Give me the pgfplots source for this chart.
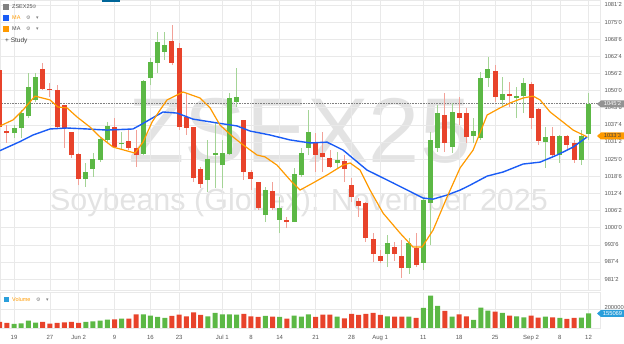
\documentclass[border=0pt]{standalone}
\usepackage{fontspec}
\setmainfont{Liberation Sans}
\newfontfamily\dejavu{DejaVu Sans}
\usepackage{pgfplots}
\pgfplotsset{compat=1.18}
\usepackage{pgfplotstable}

\definecolor{cgreen}{HTML}{5CB845}
\definecolor{cred}{HTML}{E8432B}
\definecolor{gwick}{HTML}{A4D496}
\definecolor{rwick}{HTML}{F2A198}
\definecolor{mablue}{HTML}{1A5CF5}
\definecolor{maorange}{HTML}{FF9A00}
\definecolor{gridc}{HTML}{E9E9E9}
\definecolor{wm}{HTML}{E3E3E3}
\definecolor{lbl}{HTML}{555555}
\definecolor{volblue}{HTML}{2A9FDB}

% green candles: index, open, high, low, close
\pgfplotstableread{
i O H L C
0 1034.5 1037.4 1032.7 1036.35
1 1036.35 1042.9 1032.7 1041.8
2 1040.7 1056.4 1040.0 1051.3
3 1046.6 1056.4 1045.8 1055.0
10 1017.7 1023.6 1014.8 1020.3
11 1021.4 1027.2 1018.5 1025.0
12 1024.7 1033.1 1023.9 1032.3
13 1032.0 1038.5 1031.2 1037.1
15 1030.4 1034.9 1028.3 1030.9
18 1026.9 1053.9 1026.5 1053.5
19 1054.6 1061.9 1052.0 1060.4
20 1060.1 1071.4 1056.4 1067.7
21 1064.1 1071.4 1061.2 1066.6
27 1017.4 1032.0 1013.0 1025.0
28 1026.5 1038.2 1014.5 1027.2
29 1022.8 1032.0 1014.5 1027.2
30 1026.9 1049.1 1026.5 1047.3
31 1045.8 1058.2 1044.0 1047.7
35 1004.6 1014.8 1002.0 1013.7
37 1002.8 1011.2 998.0 1007.1
39 1002.0 1021.8 1002.0 1019.6
40 1019.2 1029.1 1018.5 1027.2
41 1029.1 1042.9 1026.5 1034.9
45 1023.6 1027.6 1021.8 1024.7
52 990.4 997.3 985.6 994.4
55 985.2 996.2 983.1 994.4
57 987.1 1010.8 984.5 1010.1
58 1009.0 1034.9 993.6 1032.0
59 1029.1 1044.7 1027.6 1041.8
61 1029.4 1045.5 1027.2 1042.2
64 1033.4 1040.0 1030.9 1035.3
65 1032.7 1056.8 1032.0 1054.6
66 1054.6 1062.3 1051.3 1057.9
68 1046.6 1055.0 1044.0 1048.8
70 1047.3 1051.3 1040.0 1048.1
71 1048.1 1054.6 1041.8 1052.8
74 1031.2 1036.7 1021.8 1033.1
76 1026.5 1033.8 1023.6 1033.4
79 1024.7 1035.6 1022.8 1033.4
80 1034.2 1049.1 1032.0 1045.25
}\greentab

% red candles: index, open, high, low, close
\pgfplotstableread{
i O H L C
-2 1057.5 1059.3 1035.6 1036.7
-1 1035.25 1037.4 1030.9 1034.5
4 1057.9 1060.1 1050.2 1050.6
5 1050.6 1052.8 1047.7 1050.1
6 1050.2 1052.0 1036.35 1036.7
7 1044.7 1044.7 1029.1 1036.35
8 1034.9 1034.9 1025.4 1026.5
9 1026.9 1027.2 1015.5 1017.7
14 1036.7 1040.0 1029.1 1029.4
16 1031.6 1035.6 1028.3 1029.1
17 1029.1 1035.6 1022.1 1026.5
22 1068.1 1074.0 1059.35 1060.1
23 1065.5 1067.4 1035.6 1036.7
24 1040.4 1049.1 1033.8 1036.35
25 1036.7 1036.7 1016.6 1018.1
26 1021.4 1022.1 1014.5 1015.9
32 1039.3 1039.3 1017.4 1020.3
33 1020.3 1021.0 1013.7 1017.7
34 1016.6 1016.6 1006.4 1007.1
36 1013.4 1016.6 1006.4 1007.1
38 1002.8 1003.9 999.85 1002.0
42 1030.9 1034.5 1020.3 1026.5
43 1027.2 1034.9 1020.3 1025.8
44 1025.4 1028.3 1021.8 1022.1
46 1024.3 1026.5 1016.6 1021.4
47 1015.5 1018.1 1009.3 1011.2
48 1009.7 1010.8 1003.9 1007.9
49 1009.0 1009.3 994.7 996.2
50 995.8 998.0 987.4 990.4
51 989.6 991.8 987.1 987.8
53 992.9 994.7 987.8 990.4
54 989.6 995.5 981.6 985.2
56 992.5 998.0 985.6 986.3
60 1041.1 1049.1 1027.6 1030.9
62 1041.8 1047.7 1037.4 1040.0
63 1041.8 1043.7 1030.9 1033.1
67 1057.2 1059.35 1045.8 1047.7
69 1048.8 1053.2 1044.0 1048.1
72 1052.4 1053.2 1036.0 1040.0
73 1043.3 1043.7 1030.2 1031.6
75 1033.4 1036.7 1025.4 1026.5
77 1033.4 1033.8 1028.3 1030.2
78 1030.9 1032.0 1023.6 1024.7
}\redtab

\pgfplotstableread{
x y
-1.95 1028.1
0.84 1031.4
2.65 1033.8
5.01 1036.0
7.38 1036.35
10.17 1036.0
12.95 1035.6
16.57 1036.0
17.55 1037.4
18.94 1039.5
20.75 1042.2
22.70 1041.8
24.93 1039.6
28.27 1038.2
31.06 1037.1
32.87 1035.25
35.65 1033.8
38.44 1032.0
41.23 1030.9
43.59 1031.2
45.82 1028.3
49.16 1021.0
52.79 1016.3
56.96 1010.8
58.36 1010.4
60.31 1011.9
62.12 1013.7
63.51 1015.5
65.88 1018.8
68.11 1020.3
70.89 1023.2
73.26 1023.9
75.63 1026.5
77.86 1029.4
79.81 1033.1
}\mablue

\pgfplotstableread{
x y
-1.95 1037.1
-0.14 1039.3
1.25 1042.9
2.92 1048.0
5.01 1046.6
6.13 1044.0
7.38 1043.7
8.77 1040.4
10.58 1036.7
11.98 1033.1
13.79 1029.4
15.74 1028.0
16.85 1027.2
17.97 1031.2
19.22 1038.5
20.33 1042.9
21.31 1046.6
23.54 1049.5
25.91 1047.3
27.30 1043.7
28.69 1037.4
30.50 1033.1
31.89 1030.2
33.84 1026.5
34.96 1025.8
36.63 1022.8
38.44 1017.4
39.83 1013.7
41.64 1016.3
43.59 1019.2
45.82 1022.8
46.80 1023.6
48.19 1021.0
49.58 1013.7
51.39 1005.3
53.76 998.0
55.57 992.9
56.82 992.9
58.36 999.1
60.31 1011.2
62.12 1021.8
63.93 1028.3
65.88 1041.1
67.69 1043.7
69.08 1045.5
70.89 1047.3
72.28 1048.0
73.26 1046.6
74.65 1042.2
76.46 1038.5
77.86 1035.6
79.81 1033.1
}\maorange

\pgfplotstableread{
i v
0 42100
1 49100
2 77200
3 56100
10 63200
11 70200
12 77200
13 87700
15 98300
18 143900
19 129800
20 115800
21 105300
27 122800
28 157900
29 143900
30 143900
31 140400
35 126300
37 115800
39 129800
40 119300
41 143900
45 119300
52 122800
55 119300
57 210500
58 340400
59 231600
61 119300
64 84200
65 214000
66 182500
68 157900
70 122800
71 112300
74 119300
76 105300
79 108800
80 155069
}\volgreen

\pgfplotstableread{
i v
-2 63200
-1 52600
4 63200
5 45600
6 52600
7 59700
8 63200
9 52600
14 91200
16 98300
17 143900
22 126300
23 140400
24 122800
25 164900
26 136900
32 147400
33 122800
34 115800
36 119300
38 98300
42 115800
43 140400
44 140400
46 101800
47 147400
48 136900
49 147400
50 157900
51 136900
53 119300
54 119300
56 105300
60 179000
62 143900
63 122800
67 171900
69 129800
72 129800
73 108800
75 112300
77 94700
78 105300
}\volred

\begin{document}
\begin{tikzpicture}[x=1pt,y=1pt]
\useasboundingbox (0,0) rectangle (624,344);
% watermark
\node[text=wm, font=\fontsize{92}{92}\selectfont, inner sep=0, anchor=base] at (300,181) {ZSEX25};
\node[text=wm, font=\fontsize{30.5}{31}\selectfont, inner sep=0, anchor=base] at (299,133.5) {Soybeans (Globex): November 2025};

\begin{axis}[
  at={(0pt,54pt)}, anchor=south west, scale only axis,
  width=600pt, height=290pt,
  xmin=-1.95, xmax=81.6, ymin=977.24, ymax=1083.07,
  axis line style={draw=gridc},
  xtick={0,5,9,14,19,23,29,33,37,42,47,51,57,62,67,72,76,80},
  xticklabels={},
  ytick={981.25,987.5,993.75,1000,1006.25,1012.5,1018.75,1025,1031.25,1037.5,1043.75,1050,1056.25,1062.5,1068.75,1075,1081.25},
  yticklabels={981'2,987'4,993'6,1000'0,1006'2,1012'4,1018'6,1025'0,1031'2,1037'4,1043'6,1050'0,1056'2,1062'4,1068'6,1075'0,1081'2},
  yticklabel pos=right,
  yticklabel style={font=\fontsize{5.8}{6}\selectfont, text=lbl, xshift=1pt},
  grid=major, major grid style={draw=gridc, line width=0.5pt},
  major tick length=0pt,
]
\addplot[gray, densely dotted, line width=0.6pt] coordinates {(-3,1045.25) (83,1045.25)};
% wicks
\addplot[draw=none, mark=none, error bars/.cd, y dir=plus, y explicit, error mark=none,
  error bar style={line width=0.9pt, draw=gwick}]
  table[x=i, y=L, y error plus expr={\thisrow{H}-\thisrow{L}}] {\greentab};
\addplot[draw=none, mark=none, error bars/.cd, y dir=plus, y explicit, error mark=none,
  error bar style={line width=0.9pt, draw=rwick}]
  table[x=i, y=L, y error plus expr={\thisrow{H}-\thisrow{L}}] {\redtab};
% bodies
\addplot[draw=none, mark=none, error bars/.cd, y dir=plus, y explicit, error mark=none,
  error bar style={line width=5pt, draw=cgreen}]
  table[x=i, y=O, y error plus expr={\thisrow{C}-\thisrow{O}}] {\greentab};
\addplot[draw=none, mark=none, error bars/.cd, y dir=plus, y explicit, error mark=none,
  error bar style={line width=5pt, draw=cred}]
  table[x=i, y=C, y error plus expr={\thisrow{O}-\thisrow{C}}] {\redtab};
% moving averages
\addplot[mablue, line width=1.4pt, line join=round] table[x=x,y=y] {\mablue};
\addplot[maorange, line width=1.2pt, line join=round] table[x=x,y=y] {\maorange};
\end{axis}

\begin{axis}[
  at={(0pt,16pt)}, anchor=south west, scale only axis,
  width=600pt, height=36pt,
  xmin=-1.95, xmax=81.6, ymin=0, ymax=378900,
  axis line style={draw=gridc},
  xtick={0,5,9,14,19,23,29,33,37,42,47,51,57,62,67,72,76,80},
  xticklabels={19,27,Jun 2,9,16,23,Jul 1,8,14,21,28,Aug 1,11,18,25,Sep 2,8,12},
  xticklabel style={font=\fontsize{6}{6}\selectfont, text=lbl, yshift=-4pt},
  ytick={200000}, yticklabels={200000}, scaled y ticks=false,
  yticklabel pos=right,
  yticklabel style={font=\fontsize{5.8}{6}\selectfont, text=lbl, xshift=1pt, yshift=1pt},
  grid=major, major grid style={draw=gridc, line width=0.5pt},
  major tick length=0pt,
]
\addplot[ybar, bar width=5pt, bar shift=0pt, fill=cgreen, draw=none] table[x=i,y=v] {\volgreen};
\addplot[ybar, bar width=5pt, bar shift=0pt, fill=cred, draw=none] table[x=i,y=v] {\volred};
\end{axis}

% price tags
\fill[gray!85] (597,240) -- (601,243.5) -- (624,243.5) -- (624,236.5) -- (601,236.5) -- cycle;
\node[text=white, font=\fontsize{5.8}{6}\selectfont, inner sep=0] at (612.5,240) {1045'2};
\fill[maorange] (597,208) -- (601,211.5) -- (624,211.5) -- (624,204.5) -- (601,204.5) -- cycle;
\node[text=black!75, font=\fontsize{5.8}{6}\selectfont, inner sep=0] at (612.5,208) {1033'3};
\fill[volblue] (597,30.5) -- (601,34) -- (624,34) -- (624,27) -- (601,27) -- cycle;
\node[text=white, font=\fontsize{5.8}{6}\selectfont, inner sep=0] at (612.5,30.5) {155069};

% top-left legend
\fill[teal!80!blue] (102,342) rectangle (120,344);
\fill[gray] (3,334) rectangle (8.5,339.5);
\node[anchor=west, inner sep=0, font=\fontsize{5.5}{6}\selectfont, text=black!70] at (12,337) {ZSEX25};
\node[anchor=west, inner sep=0, font=\dejavu\fontsize{5}{6}\selectfont, text=gray] at (32,337) {⚙};
\fill[mablue] (3,323) rectangle (8.5,328.5);
\node[anchor=west, inner sep=0, font=\fontsize{5.5}{6}\selectfont, text=maorange] at (12,326) {MA};
\node[anchor=west, inner sep=0, font=\dejavu\fontsize{5}{6}\selectfont, text=gray] at (26,326) {⚙};
\node[anchor=west, inner sep=0, font=\dejavu\fontsize{5}{6}\selectfont, text=gray] at (36,326) {▾};
\fill[maorange] (3,312) rectangle (8.5,317.5);
\node[anchor=west, inner sep=0, font=\fontsize{5.5}{6}\selectfont, text=black!70] at (12,315) {MA};
\node[anchor=west, inner sep=0, font=\dejavu\fontsize{5}{6}\selectfont, text=gray] at (26,315) {⚙};
\node[anchor=west, inner sep=0, font=\dejavu\fontsize{5}{6}\selectfont, text=gray] at (36,315) {▾};
\node[anchor=west, inner sep=0, font=\fontsize{6.5}{7}\selectfont, text=black!75] at (5,303) {+ Study};

% volume legend
\fill[volblue] (4,41.5) rectangle (9,46.5);
\node[anchor=west, inner sep=0, font=\fontsize{5.5}{6}\selectfont, text=maorange] at (12,44) {Volume};
\node[anchor=west, inner sep=0, font=\dejavu\fontsize{5}{6}\selectfont, text=gray] at (36,44) {⚙};
\node[anchor=west, inner sep=0, font=\dejavu\fontsize{5}{6}\selectfont, text=gray] at (46,44) {▾};
\end{tikzpicture}
\end{document}
